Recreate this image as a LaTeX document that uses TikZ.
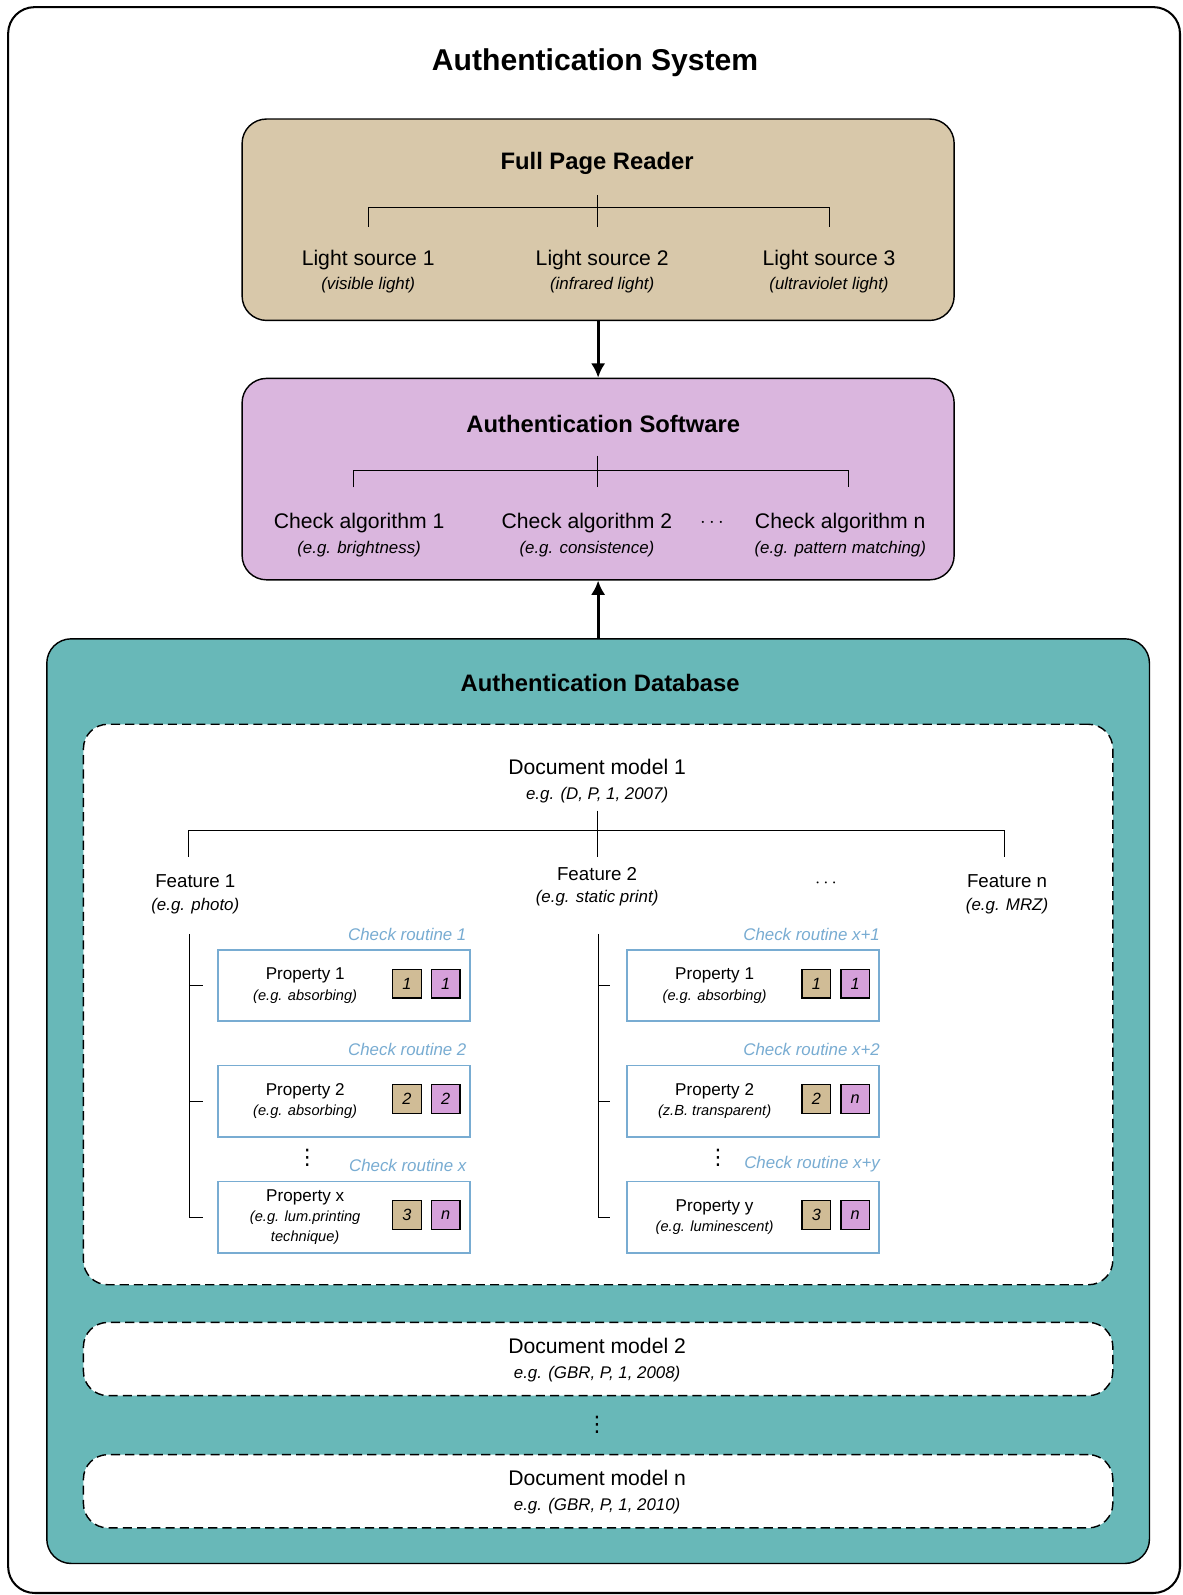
\documentclass[tikz,border=0pt]{standalone}
\usepackage{fontspec}
\setmainfont{Liberation Sans}
\newfontfamily\symfont{DejaVu Sans}
\usetikzlibrary{positioning, arrows.meta}

\definecolor{readertan}{RGB}{216,200,170}
\definecolor{softpurple}{RGB}{218,182,222}
\definecolor{dbteal}{RGB}{104,184,184}
\definecolor{routineblue}{RGB}{120,172,210}
\definecolor{chiptan}{RGB}{208,188,150}
\definecolor{chippurple}{RGB}{214,160,218}

\newcommand{\subline}[1]{{\fontsize{8.3}{10}\itshape #1}}
\newcommand{\propsub}[1]{{\fontsize{7.2}{9}\itshape #1}}

\tikzset{
  panel/.style={draw, line width=0.7pt, rounded corners=12pt, minimum width=350pt, minimum height=99pt},
  heading/.style={font=\fontsize{11.7}{14}\bfseries},
  leaf/.style={align=center, font=\fontsize{10.4}{12}\selectfont},
  featleaf/.style={align=center, font=\fontsize{9.2}{11}\selectfont},
  modelbox/.style={draw, fill=white, dash pattern=on 4.5pt off 2.5pt, line width=0.7pt, rounded corners=12pt, minimum width=506pt},
  propbox/.style={draw=routineblue, fill=white, line width=0.9pt, minimum width=124pt, minimum height=35pt},
  proptext/.style={align=center, font=\fontsize{8.4}{10}\selectfont},
  routine/.style={font=\fontsize{8.3}{10}\itshape, text=routineblue, anchor=south east, inner sep=1pt},
  chip/.style={draw, line width=0.6pt, minimum size=14pt, inner sep=0pt, font=\fontsize{8}{9}\itshape},
  vdotmark/.style={inner sep=0pt, font=\symfont\fontsize{10.5}{11}\selectfont},
  arrow/.style={-{Latex[length=7pt, width=7pt]}, line width=1.6pt}
}

\begin{document}
\begin{tikzpicture}[x=0.5pt, y=-0.5pt]
\useasboundingbox (0,0) rectangle (1162,1568);
% outer frame
\draw[line width=1pt, rounded corners=13pt] (8,7) rectangle (1160,1566);
\node (systitle) [font=\fontsize{14.8}{17}\bfseries] at (585,62) {Authentication System};

% full page reader
\node (fpr) [panel, fill=readertan] at (588,216) {};
\node (fprtitle) [heading] at (587,161) {Full Page Reader};
\node (ls1) [leaf] at (362,267) {Light source 1\\\subline{(visible light)}};
\node (ls2) [leaf] at (592,267) {Light source 2\\\subline{(infrared light)}};
\node (ls3) [leaf] at (815,267) {Light source 3\\\subline{(ultraviolet light)}};
\coordinate (fprtick) at (587,192);
\coordinate (fprhub) at (587,204);
\coordinate (fprdrop) at (0,223);
\draw (fprtick) -- (fprtick |- fprdrop);
\draw (ls1 |- fprdrop) |- (fprhub) -| (ls3 |- fprdrop);

% authentication software
\node (asw) [panel, fill=softpurple] at (588,471) {};
\node (aswtitle) [heading] at (593,417) {Authentication Software};
\node (ca1) [leaf] at (353,526) {Check algorithm 1\\\subline{(e.g. brightness)}};
\node (ca2) [leaf] at (577,526) {Check algorithm 2\\\subline{(e.g. consistence)}};
\node (cadots) [leaf] at (700,514) {$\cdots$};
\node (can) [leaf] at (826,526) {Check algorithm n\\\subline{(e.g. pattern matching)}};
\coordinate (aswtick) at (587,448);
\coordinate (aswhub) at (587,462);
\coordinate (aswl) at (347,479);
\coordinate (aswr) at (834,479);
\draw (aswtick) -- (aswtick |- aswl);
\draw (aswl) |- (aswhub) -| (aswr);

% authentication database
\node (adb) [draw, line width=0.7pt, fill=dbteal, rounded corners=12pt, minimum width=542pt, minimum height=454.5pt] at (588,1082.5) {};
\node (adbtitle) [heading] at (590,671) {Authentication Database};

\draw [arrow] (fpr.south) -- (asw.north);
\draw [arrow] (adb.north) -- (asw.south);

% document model 1
\node (dm1) [modelbox, minimum height=275.5pt] at (588,987.5) {};
\node (dm1text) [leaf] at (587,768) {Document model 1\\\subline{e.g. (D, P, 1, 2007)}};
\node (f1) [featleaf] at (192,879) {Feature 1\\\subline{(e.g. photo)}};
\node (f2) [featleaf] at (587,872) {Feature 2\\\subline{(e.g. static print)}};
\node (fdots) [featleaf] at (812,868) {$\cdots$};
\node (fn) [featleaf] at (990,879) {Feature n\\\subline{(e.g. MRZ)}};
\coordinate (dmtick) at (587,797);
\coordinate (dmhub) at (587,816);
\coordinate (dml) at (185,842);
\coordinate (dmr) at (987,842);
\draw (dmtick) -- (dmtick |- dml);
\draw (dml) |- (dmhub) -| (dmr);

% feature 1 properties
\node (p11) [propbox] at (338,969) {};
\node (p12) [propbox] at (338,1082.5) {};
\node (p13) [propbox] at (338,1196.5) {};
\node [routine] at ([xshift=-1pt,yshift=3pt]p11.north east) {Check routine 1};
\node [routine] at ([xshift=-1pt,yshift=3pt]p12.north east) {Check routine 2};
\node [routine] at ([xshift=-1pt,yshift=3pt]p13.north east) {Check routine x};
\node [proptext] at ([xshift=-19pt]p11.center) {Property 1\\\propsub{(e.g. absorbing)}};
\node [proptext] at ([xshift=-19pt]p12.center) {Property 2\\\propsub{(e.g. absorbing)}};
\node [proptext] at ([xshift=-19pt]p13.center) {Property x\\\propsub{(e.g. lum.printing}\\\propsub{technique)}};
\node (c11a) [chip, fill=chiptan] at ([xshift=31pt,yshift=1pt]p11.center) {1};
\node (c11b) [chip, fill=chippurple, right=4.5pt of c11a] {1};
\node (c12a) [chip, fill=chiptan] at ([xshift=31pt,yshift=1pt]p12.center) {2};
\node (c12b) [chip, fill=chippurple, right=4.5pt of c12a] {2};
\node (c13a) [chip, fill=chiptan] at ([xshift=31pt,yshift=1pt]p13.center) {3};
\node (c13b) [chip, fill=chippurple, right=4.5pt of c13a] {n};
\node (v1) [vdotmark] at (302,1138) {⋮};
\coordinate (t1top) at (186,918);
\draw (t1top) |- ([xshift=-7pt]p13.west);
\draw (t1top |- p11.west) -- ([xshift=-7pt]p11.west);
\draw (t1top |- p12.west) -- ([xshift=-7pt]p12.west);

% feature 2 properties
\node (p21) [propbox] at (740.5,969) {};
\node (p22) [propbox] at (740.5,1082.5) {};
\node (p23) [propbox] at (740.5,1196.5) {};
\node [routine] at ([xshift=1pt,yshift=3pt]p21.north east) {Check routine x+1};
\node [routine] at ([xshift=1pt,yshift=3pt]p22.north east) {Check routine x+2};
\node [routine] at ([xshift=1pt,yshift=3pt]p23.north east) {Check routine x+y};
\node [proptext] at ([xshift=-19pt]p21.center) {Property 1\\\propsub{(e.g. absorbing)}};
\node [proptext] at ([xshift=-19pt]p22.center) {Property 2\\\propsub{(z.B. transparent)}};
\node [proptext] at ([xshift=-19pt]p23.center) {Property y\\\propsub{(e.g. luminescent)}};
\node (c21a) [chip, fill=chiptan] at ([xshift=31pt,yshift=1pt]p21.center) {1};
\node (c21b) [chip, fill=chippurple, right=4.5pt of c21a] {1};
\node (c22a) [chip, fill=chiptan] at ([xshift=31pt,yshift=1pt]p22.center) {2};
\node (c22b) [chip, fill=chippurple, right=4.5pt of c22a] {n};
\node (c23a) [chip, fill=chiptan] at ([xshift=31pt,yshift=1pt]p23.center) {3};
\node (c23b) [chip, fill=chippurple, right=4.5pt of c23a] {n};
\node (v2) [vdotmark] at (706,1138) {⋮};
\coordinate (t2top) at (588,918);
\draw (t2top) |- ([xshift=-8pt]p23.west);
\draw (t2top |- p21.west) -- ([xshift=-8pt]p21.west);
\draw (t2top |- p22.west) -- ([xshift=-8pt]p22.west);

% further document models
\node (dm2) [modelbox, minimum height=36pt] at (588,1336) {};
\node (dm2text) [leaf] at (587,1337) {Document model 2\\\subline{e.g. (GBR, P, 1, 2008)}};
\node (vdm) [vdotmark] at (587,1401) {⋮};
\node (dmn) [modelbox, minimum height=36pt] at (588,1466) {};
\node (dmntext) [leaf] at (587,1467) {Document model n\\\subline{e.g. (GBR, P, 1, 2010)}};
\end{tikzpicture}
\end{document}
